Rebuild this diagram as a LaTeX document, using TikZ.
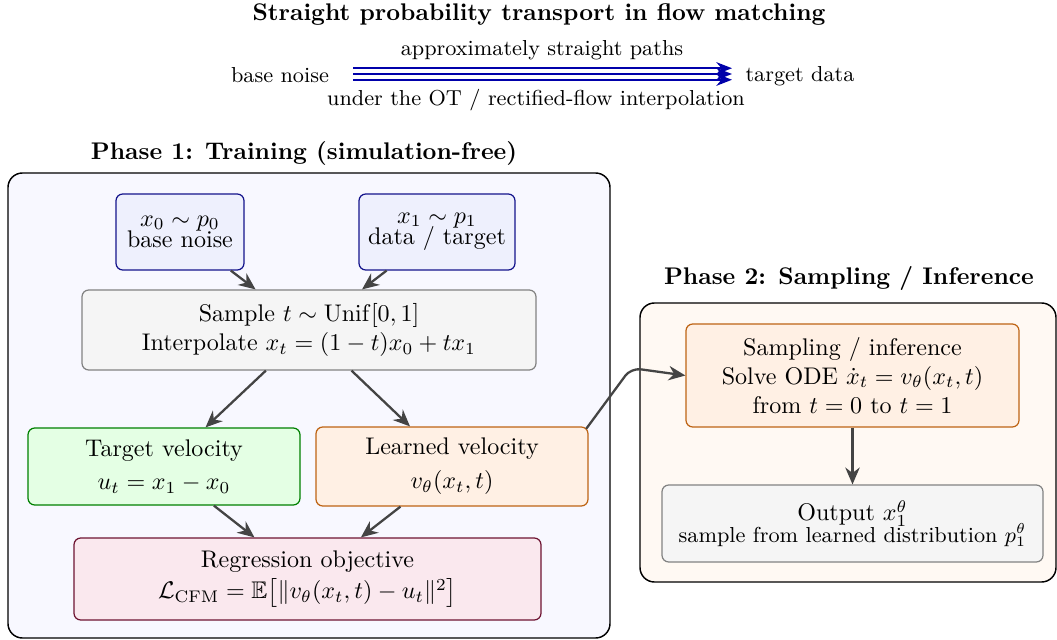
\documentclass[tikz,border=0pt]{standalone}
\usepackage{amsmath,amssymb}
\usetikzlibrary{arrows.meta}
\definecolor{arrgray}{RGB}{68,68,68}
\definecolor{pathblue}{RGB}{0,0,170}
\definecolor{ponefill}{RGB}{248,248,255}
\definecolor{ptwofill}{RGB}{255,249,243}
\definecolor{bluefill}{RGB}{238,240,253}
\definecolor{blueline}{RGB}{20,20,140}
\definecolor{grayfill}{RGB}{245,245,245}
\definecolor{grayline}{RGB}{130,130,130}
\definecolor{greenfill}{RGB}{228,255,228}
\definecolor{greenline}{RGB}{0,128,0}
\definecolor{orangefill}{RGB}{255,240,228}
\definecolor{orangeline}{RGB}{190,100,20}
\definecolor{pinkfill}{RGB}{250,232,238}
\definecolor{pinkline}{RGB}{110,20,50}
\def\PX{0.4156pt}
\begin{document}
\begin{tikzpicture}[x=\PX,y=-\PX,
  phase/.style={draw=black, line width=0.6pt, rounded corners=6pt},
  box/.style={rectangle, rounded corners=2.8pt, line width=0.5pt, align=center, inner sep=2pt},
  bluebox/.style={box, draw=blueline, fill=bluefill},
  graybox/.style={box, draw=grayline, fill=grayfill},
  greenbox/.style={box, draw=greenline, fill=greenfill},
  orangebox/.style={box, draw=orangeline, fill=orangefill},
  pinkbox/.style={box, draw=pinkline, fill=pinkfill},
  conn/.style={draw=arrgray, line width=0.95pt, -{Stealth[length=7pt,width=6pt]}},
  flowline/.style={draw=pathblue, line width=1pt, -{Stealth[length=6.5pt,width=5pt]}},
  ttl/.style={font=\bfseries},
  note/.style={font=\small}
]
\useasboundingbox (0,0) rectangle (1057,640);

% top illustration
\node[ttl] (title) at (539,15) {Straight probability transport in flow matching};
\node[note] (bn) at (280,75) {base noise};
\node[note] (td) at (800,76) {target data};
\coordinate (ls) at (353,74);
\coordinate (le) at (732,74);
\draw[flowline] ([yshift=2.4pt]ls) -- ([yshift=2.4pt]le);
\draw[flowline] (ls) -- (le);
\draw[flowline] ([yshift=-2.4pt]ls) -- ([yshift=-2.4pt]le);
\node[note] (above) at (542,50) {approximately straight paths};
\node[note] (below) at (536,100) {under the OT / rectified-flow interpolation};

% phase boxes
\node[ttl] (p1t) at (304,153) {Phase 1: Training (simulation-free)};
\draw[phase, fill=ponefill] (8,173) rectangle (610,638);
\node[ttl] (p2t) at (849,278) {Phase 2: Sampling / Inference};
\draw[phase, fill=ptwofill] (640,303) rectangle (1056,582);

% phase 1 nodes
\node[bluebox, minimum width=128*\PX, minimum height=76*\PX] (x0) at (180,232)
  {$x_0\sim p_0$\\[-3pt]base noise};
\node[bluebox, minimum width=156*\PX, minimum height=76*\PX] (x1) at (437,232)
  {$x_1\sim p_1$\\[-3pt]data / target};
\node[graybox, minimum width=454*\PX, minimum height=80*\PX] (samp) at (309,330)
  {Sample $t\sim\mathrm{Unif}[0,1]$\\Interpolate $x_t=(1-t)x_0+tx_1$};
\node[greenbox, minimum width=272*\PX, minimum height=77*\PX] (tv) at (164,466.5)
  {Target velocity\\[2pt]$u_t=x_1-x_0$};
\node[orangebox, minimum width=272*\PX, minimum height=79*\PX] (lv) at (452,466.5)
  {Learned velocity\\[2pt]$v_\theta(x_t,t)$};
\node[pinkbox, minimum width=467*\PX, minimum height=82*\PX] (reg) at (307.5,579)
  {Regression objective\\[1pt]$\mathcal{L}_{\mathrm{CFM}}=\mathbb{E}\bigl[\|v_\theta(x_t,t)-u_t\|^2\bigr]$};

% phase 2 nodes
\node[orangebox, minimum width=333*\PX, minimum height=103*\PX] (sam) at (852.5,375.5)
  {Sampling / inference\\Solve ODE $\dot{x}_t=v_\theta(x_t,t)$\\from $t=0$ to $t=1$};
\node[graybox, minimum width=381*\PX, minimum height=77*\PX] (out) at (852.5,523.5)
  {Output $x_1^\theta$\\[-3pt]{\small sample from learned distribution $p_1^\theta$}};

% connectors
\draw[conn] (x0) -- (samp);
\draw[conn] (x1) -- (samp);
\draw[conn] (samp) -- (tv);
\draw[conn] (samp) -- (lv);
\draw[conn] (tv) -- (reg);
\draw[conn] (lv) -- (reg);
\draw[conn] (sam) -- (out);
\coordinate (bend) at (631,368);
\draw[conn, rounded corners=4pt] ([xshift=-1pt,yshift=-1pt]lv.north east) -- (bend) -- (sam.west);
\end{tikzpicture}
\end{document}
